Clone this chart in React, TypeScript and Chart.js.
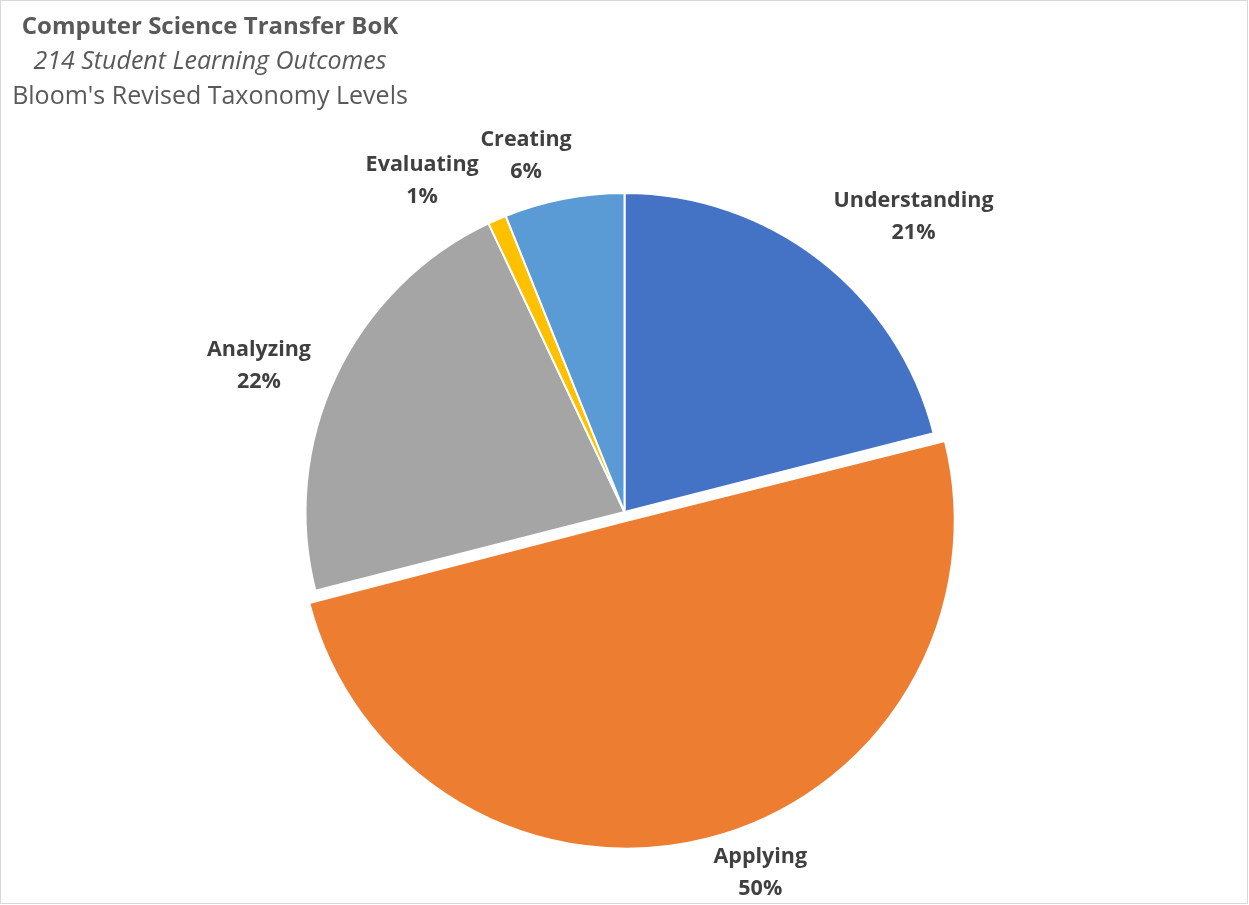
import React, { useEffect, useRef } from "react";
import { Chart, registerables } from "chart.js";

Chart.register(...registerables);

const categories = ["Understanding", "Applying", "Analyzing", "Evaluating", "Creating"];
const outcomeCounts = [45, 107, 47, 2, 13];
const sliceColors = ["#4472C4", "#ED7D31", "#A5A5A5", "#FFC000", "#5B9BD5"];
const sliceOffsets = [0, 36, 0, 0, 0];
const titleLines = ["Computer Science Transfer BoK", "214 Student Learning Outcomes", "Bloom's Revised Taxonomy Levels"];

const FONT = "'Open Sans', sans-serif";

const labelNudges = [
  { dx: 39, dy: 27 },
  { dx: 39, dy: -19 },
  { dx: -6, dy: 23 },
  { dx: -49, dy: 21 },
  { dx: -28, dy: 8 },
];

const framePlugin = {
  id: "frameAndTitle",
  beforeDraw(chart: any) {
    const ctx = chart.ctx;
    const w = chart.width;
    const h = chart.height;
    ctx.save();
    ctx.fillStyle = "#ffffff";
    ctx.fillRect(0, 0, w, h);
    ctx.strokeStyle = "#d9d9d9";
    ctx.lineWidth = 1;
    ctx.strokeRect(0.5, 0.5, w - 2, h - 2);
    ctx.restore();
  },
  afterDraw(chart: any) {
    const ctx = chart.ctx;
    ctx.save();
    ctx.fillStyle = "#595959";
    ctx.textAlign = "center";
    ctx.textBaseline = "alphabetic";
    const styles = ["bold 24px", "italic 25px", "25px"];
    const ys = [34, 69, 104];
    titleLines.forEach((t, i) => {
      ctx.font = `${styles[i]} ${FONT}`;
      ctx.fillText(t, 210, ys[i]);
    });
    ctx.restore();
  },
};

const labelPlugin = {
  id: "sliceLabels",
  afterDatasetsDraw(chart: any) {
    const ctx = chart.ctx;
    const meta = chart.getDatasetMeta(0);
    const data = chart.data.datasets[0].data as number[];
    const total = data.reduce((a, b) => a + b, 0);
    ctx.save();
    ctx.font = `bold 21.5px ${FONT}`;
    ctx.fillStyle = "#404040";
    ctx.textAlign = "center";
    ctx.textBaseline = "middle";
    meta.data.forEach((arc: any, i: number) => {
      const p = arc.getProps(["x", "y", "startAngle", "endAngle", "outerRadius", "circumference"], true);
      const mid = (p.startAngle + p.endAngle) / 2;
      const o = (sliceOffsets[i] || 0) / 4;
      const fix = 1 - Math.sin(Math.min(Math.PI, p.circumference || 0));
      const off = o + o * fix;
      const cx = p.x + Math.cos(mid) * off;
      const cy = p.y + Math.sin(mid) * off;
      const name = categories[i];
      const pct = `${Math.round((data[i] / total) * 100)}%`;
      const hw = Math.max(ctx.measureText(name).width, ctx.measureText(pct).width) / 2;
      const hh = 22;
      const extent = Math.abs(Math.cos(mid)) * hw + Math.abs(Math.sin(mid)) * hh;
      const dist = p.outerRadius + 22 + extent;
      const lx = cx + Math.cos(mid) * dist + labelNudges[i].dx;
      const ly = cy + Math.sin(mid) * dist + labelNudges[i].dy;
      ctx.fillText(name, lx, ly - 16);
      ctx.fillText(pct, lx, ly + 16);
    });
    ctx.restore();
  },
};

export default function App() {
  const ref = useRef<HTMLCanvasElement>(null);
  useEffect(() => {
    document.body.style.margin = "0";
    const chart = new Chart(ref.current!, {
      type: "pie",
      data: {
        labels: categories,
        datasets: [
          {
            data: outcomeCounts,
            backgroundColor: sliceColors,
            borderColor: "#ffffff",
            borderWidth: 2,
            offset: sliceOffsets,
          },
        ],
      },
      options: {
        animation: false,
        responsive: false,
        devicePixelRatio: 1,
        layout: { padding: { top: 174, bottom: 55, left: 0, right: 0 } },
        plugins: {
          legend: { display: false },
          title: { display: false },
          tooltip: { enabled: false },
        },
      },
      plugins: [framePlugin, labelPlugin],
    });
    return () => chart.destroy();
  }, []);
  return (
    <div style={{ position: "absolute", left: 0, top: 0, width: 1249, height: 905 }}>
      <canvas ref={ref} width={1249} height={905} style={{ width: 1249, height: 905 }} />
    </div>
  );
}
